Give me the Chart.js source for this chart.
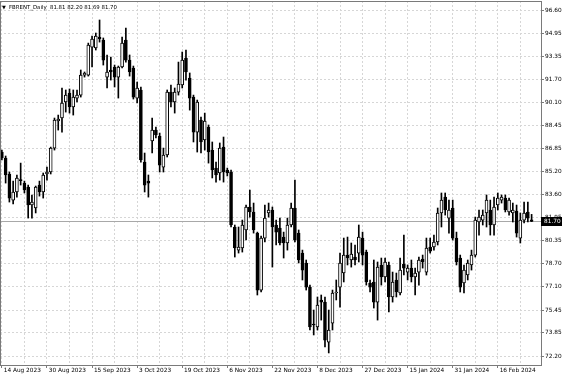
<!DOCTYPE html>
<html><head><meta charset="utf-8">
<script src="https://cdn.jsdelivr.net/npm/chart.js@4.4.1/dist/chart.umd.min.js"></script>
<style>html,body{margin:0;padding:0;background:#fff;overflow:hidden}canvas{display:block}</style>
</head><body>
<canvas id="c" width="564" height="376"></canvas>
<script>
const symbolName = 'FBRENT_Daily';
const opens = [86.60,86.18,85.05,83.21,83.78,84.60,84.41,84.13,82.86,82.65,84.27,83.78,85.05,85.19,86.88,88.79,89.00,90.13,90.76,89.78,
90.41,90.62,92.03,92.03,94.01,93.94,94.72,94.50,91.89,92.39,92.60,91.89,92.60,94.50,93.09,92.53,90.41,90.98,85.89,84.55,
87.38,88.15,87.73,85.54,86.39,90.83,90.13,90.83,91.33,93.23,91.82,90.48,88.01,88.86,87.45,88.36,86.74,85.47,85.12,86.95,
85.33,85.19,81.31,79.68,79.83,81.10,82.72,82.37,80.88,76.86,80.53,82.30,82.51,81.45,81.24,80.60,80.18,81.45,82.65,80.88,
79.47,78.77,77.07,74.46,74.25,76.16,76.01,73.19,74.53,76.65,77.07,78.06,79.33,78.98,79.19,79.47,80.53,79.54,77.36,77.43,
76.01,78.63,77.78,78.63,76.37,77.57,76.65,78.70,78.13,78.41,77.78,78.13,79.05,78.13,79.90,79.90,80.25,82.30,83.42,81.94,
82.65,80.53,79.12,77.36,77.92,78.63,79.33,81.66,81.80,82.30,82.51,81.45,82.86,83.21,83.35,82.37,82.30,82.44,80.53,81.80,
82.37,81.81];
const highs = [86.74,86.32,85.19,84.55,84.98,85.82,84.55,84.27,83.57,84.20,84.55,85.12,85.54,86.95,89.00,89.21,91.12,90.98,91.05,90.98,
90.98,92.39,92.25,94.29,94.79,95.00,95.92,94.65,93.45,93.30,92.74,92.67,94.72,95.35,93.45,92.67,91.54,91.19,86.53,84.98,
89.00,88.36,87.94,86.88,90.98,91.33,91.12,92.95,93.66,93.80,92.18,90.62,90.27,89.07,89.35,88.51,87.31,85.89,87.24,87.66,
85.47,85.33,81.45,81.31,81.80,82.86,83.92,83.00,80.95,80.67,82.86,83.00,82.72,81.80,81.94,80.95,81.94,83.00,84.62,81.10,
79.68,78.98,77.21,75.45,76.37,76.51,76.37,75.45,76.86,77.57,79.47,80.53,80.60,80.18,80.04,81.45,80.95,79.68,77.57,78.98,
78.84,79.12,79.12,78.84,78.13,78.06,79.12,80.74,78.63,78.98,78.41,79.19,79.33,80.53,80.53,80.74,82.65,83.71,83.71,83.21,
83.21,80.95,79.33,78.63,78.98,79.68,82.01,82.51,82.51,83.57,83.21,83.42,83.71,83.57,83.57,83.35,83.00,82.86,82.30,83.07,
83.07,82.20];
const lows = [86.04,84.41,83.07,82.93,83.42,84.27,83.71,81.94,81.94,82.30,83.49,83.35,84.62,85.05,86.74,88.15,88.01,89.42,89.35,89.21,
90.13,90.48,91.89,91.96,92.60,93.80,94.36,92.74,91.12,91.68,91.19,90.41,92.53,92.95,91.96,90.34,90.06,85.89,83.78,83.42,
86.53,87.59,85.19,85.19,86.25,89.78,89.35,90.62,91.12,91.68,89.56,87.31,86.60,86.53,86.74,85.82,84.77,84.48,84.62,84.48,
84.91,81.31,79.19,79.47,79.54,80.39,82.01,80.88,76.51,76.72,80.25,82.01,78.48,80.04,80.04,79.12,79.68,81.31,80.25,78.77,
77.57,76.86,74.04,73.69,74.04,74.74,72.84,72.42,74.04,76.16,75.66,77.43,78.63,78.48,78.63,78.84,78.63,77.21,76.72,75.59,
74.74,77.21,77.43,75.31,76.01,76.37,76.51,77.92,77.57,77.43,76.51,77.21,78.41,77.92,79.47,79.68,80.04,81.31,82.15,80.88,
80.39,78.63,76.72,76.65,77.57,78.27,79.19,80.74,81.45,81.31,80.74,80.74,82.51,83.00,82.37,82.15,81.66,80.60,80.18,81.59,
81.66,81.69];
const closes = [86.18,84.98,83.35,83.78,84.77,84.58,83.92,82.86,83.07,84.13,83.78,84.98,85.19,86.88,88.86,88.93,90.06,90.62,89.78,90.48,
90.62,92.03,92.18,94.15,94.58,94.79,94.58,93.09,92.25,92.25,91.89,92.60,94.29,93.09,92.25,90.48,91.12,86.04,84.27,84.41,
88.15,87.80,85.68,86.39,90.83,90.13,90.83,91.40,93.09,92.25,90.41,88.01,90.13,87.31,88.79,86.60,85.33,84.98,86.88,85.19,
85.12,81.45,79.83,79.90,81.45,82.72,82.37,81.10,76.86,80.53,81.94,82.51,81.31,80.95,80.18,80.18,81.45,82.65,80.39,78.98,
78.27,77.07,74.25,74.39,75.80,76.01,73.33,74.04,76.65,76.72,78.77,79.33,79.12,79.40,78.98,80.60,79.33,77.43,77.07,76.01,
78.48,77.78,78.84,76.37,77.43,76.72,78.27,78.41,78.41,77.78,78.06,78.98,78.84,79.83,79.61,80.25,82.30,83.21,82.51,82.51,
80.53,78.84,77.07,78.27,78.77,79.33,81.80,82.01,82.15,83.21,81.45,82.72,83.35,83.42,82.51,83.21,82.51,80.88,81.80,82.30,
81.94,81.70];
const xTickLabels = ['14 Aug 2023','30 Aug 2023','15 Sep 2023','3 Oct 2023','19 Oct 2023','6 Nov 2023','22 Nov 2023','8 Dec 2023','27 Dec 2023','15 Jan 2024','31 Jan 2024','16 Feb 2024'];
const xTickEvery = 12;
const yTickValues = [72.20,73.85,75.45,77.10,78.70,80.35,81.95,83.60,85.20,86.85,88.45,90.10,91.70,93.35,94.95,96.60];
const yMin = 71.57, yMax = 97.26;
const emptySlotsRight = 2;

const slotCount = opens.length + emptySlotsRight;
const categories = [];
for (let i = 0; i < slotCount; i++) {
  const k = i / xTickEvery;
  categories.push(Number.isInteger(k) && xTickLabels[k] ? xTickLabels[k] : '');
}
const bodyColors = opens.map((o, i) => closes[i] >= o ? '#ffffff' : '#000000');
const lastIdx = closes.length - 1;

const FONT = 'DejaVu Sans';
const gridColor = '#d6d6d6';
const frameColor = '#7a7a7a';

const mtPlugin = {
  id: 'mtDecor',
  beforeDatasetsDraw(chart) {
    const {ctx, chartArea: a, scales: {y}} = chart;
    const py = Math.round(y.getPixelForValue(closes[lastIdx])) + 0.5;
    ctx.save();
    ctx.strokeStyle = '#a8a8a8';
    ctx.lineWidth = 1;
    ctx.beginPath(); ctx.moveTo(a.left, py); ctx.lineTo(a.right, py); ctx.stroke();
    ctx.restore();
  },
  afterDraw(chart) {
    const {ctx, chartArea: a, scales: {y}} = chart;
    ctx.save();
    ctx.strokeStyle = frameColor; ctx.lineWidth = 1;
    ctx.strokeRect(a.left + 0.5, a.top + 0.5, a.right - a.left, a.bottom - a.top);
    ctx.fillStyle = '#000';
    ctx.textBaseline = 'middle';
    ctx.textAlign = 'left';
    ctx.font = '5px ' + FONT;
    ctx.fillText('\u25BC', a.left + 2, a.top + 6.5);
    ctx.font = '5.4px ' + FONT;
    const hdr = symbolName + '  ' + [opens[lastIdx], highs[lastIdx], lows[lastIdx], closes[lastIdx]].map(v => v.toFixed(2)).join(' ');
    ctx.fillText(hdr, a.left + 9, a.top + 6.5);
    const py = Math.round(y.getPixelForValue(closes[lastIdx]));
    ctx.fillStyle = '#000';
    ctx.fillRect(a.right, py - 4, 21, 9);
    ctx.fillStyle = '#fff';
    ctx.font = '5.8px ' + FONT;
    ctx.fillText(closes[lastIdx].toFixed(2), a.right + 3, py + 0.5);
    ctx.restore();
  }
};

new Chart(document.getElementById('c'), {
  type: 'bar',
  data: {
    labels: categories,
    datasets: [
      {
        label: 'wick',
        data: lows.map((l, i) => [l, highs[i]]),
        backgroundColor: '#000000',
        borderWidth: 0,
        barThickness: 1,
        grouped: false,
        order: 2
      },
      {
        label: 'body',
        data: opens.map((o, i) => [o, closes[i]]),
        backgroundColor: bodyColors,
        borderColor: '#000000',
        borderWidth: 1,
        borderSkipped: false,
        barThickness: 3,
        minBarLength: 1,
        grouped: false,
        order: 1
      }
    ]
  },
  options: {
    responsive: false,
    animation: false,
    devicePixelRatio: 1,
    layout: {padding: {top: 1, left: 0, right: 0, bottom: 0}},
    plugins: {legend: {display: false}, tooltip: {enabled: false}},
    scales: {
      x: {
        type: 'category',
        offset: true,
        grid: {
          offset: false,
          drawOnChartArea: true,
          color: ctx => (ctx.index % 6 === 0 ? gridColor : 'rgba(0,0,0,0)'),
          tickColor: ctx => (ctx.index % xTickEvery === 0 ? frameColor : 'rgba(0,0,0,0)'),
          tickLength: 3,
          lineWidth: 1
        },
        border: {display: true, color: frameColor, dash: [2, 2]},
        ticks: {
          autoSkip: false,
          maxRotation: 0,
          minRotation: 0,
          align: 'start',
          padding: -1,
          color: '#000',
          font: {family: FONT, size: 5.8},
          callback: function (v, i) { const s = categories[i]; return s ? ' ' + s : ''; }
        },
        afterFit: s => { s.height = 11; s.paddingLeft = 0; s.paddingRight = 0; }
      },
      y: {
        position: 'right',
        min: yMin,
        max: yMax,
        afterBuildTicks: s => { s.ticks = yTickValues.map(v => ({value: v})); },
        grid: {color: gridColor, tickColor: frameColor, tickLength: 3, lineWidth: 1},
        border: {display: true, color: frameColor, dash: [2, 2]},
        ticks: {
          color: '#000',
          padding: 1,
          crossAlign: 'near',
          font: {family: FONT, size: 5.8},
          callback: v => Number(v).toFixed(2)
        },
        afterFit: s => { s.width = 23; s.paddingTop = 0; s.paddingBottom = 0; }
      }
    }
  },
  plugins: [mtPlugin]
});
</script>
</body></html>
